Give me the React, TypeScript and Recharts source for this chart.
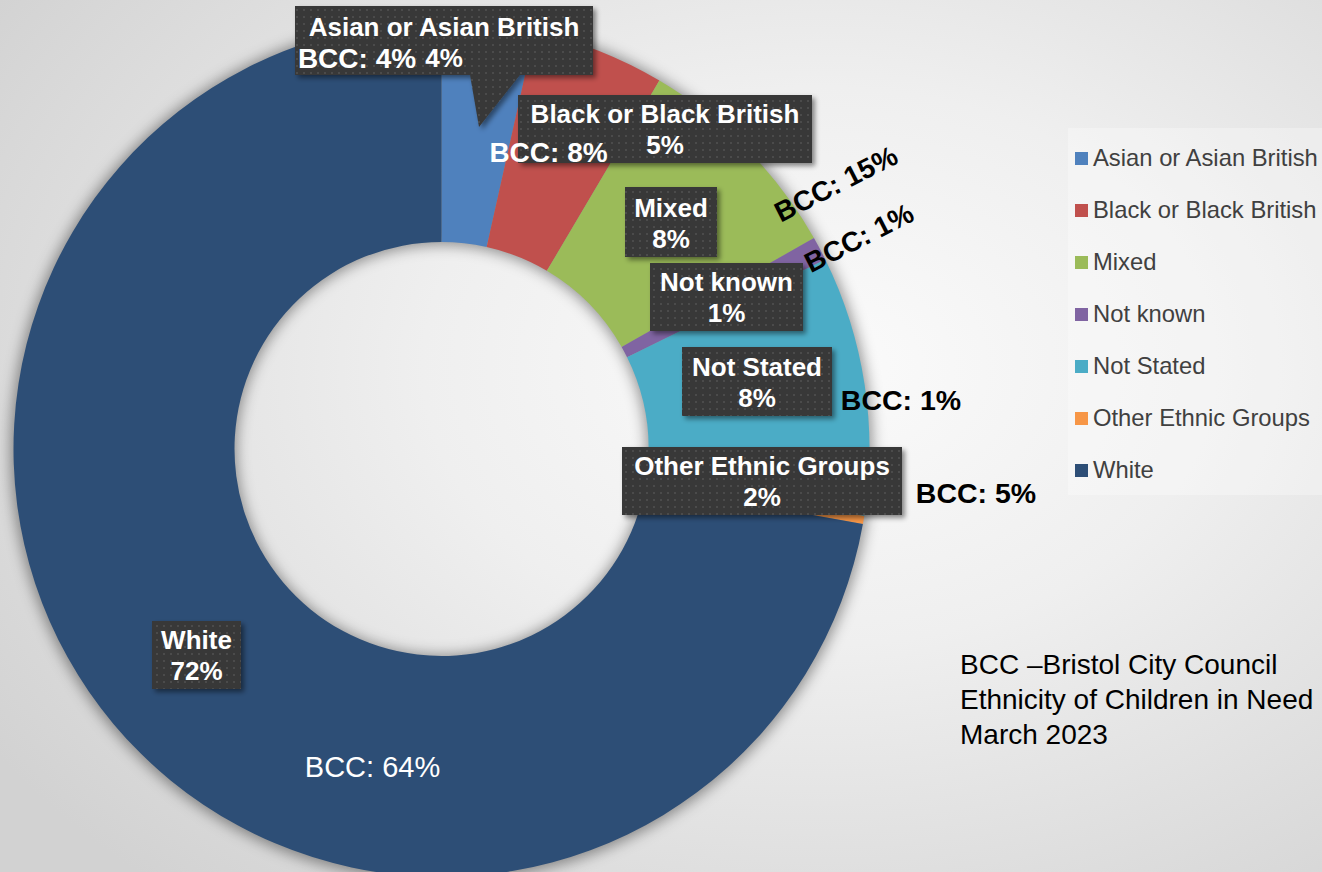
import React from 'react';
import { PieChart, Pie, Cell, Legend } from 'recharts';

const categories = [
  'Asian or Asian British',
  'Black or Black British',
  'Mixed',
  'Not known',
  'Not Stated',
  'Other Ethnic Groups',
  'White',
];
const sliceShares = [3.5, 5.0, 8.3, 0.9, 9.8, 0.3, 72.2];
const percentLabels = ['4%', '5%', '8%', '1%', '8%', '2%', '72%'];
const bccLabels = ['BCC: 4%', 'BCC: 8%', 'BCC: 15%', 'BCC: 1%', 'BCC: 1%', 'BCC: 5%', 'BCC: 64%'];
const colors = ['#4f81bd', '#c0504d', '#9bbb59', '#8064a2', '#4bacc6', '#f79646', '#2d4e76'];

const noteLines = ['BCC \u2013Bristol City Council', 'Ethnicity of Children in Need', 'March 2023'];

const data = categories.map((name, i) => ({ name, value: sliceShares[i] }));
const shadowData = [{ name: 'shadow', value: 1 }];

// label layout (style only): offsets relative to the pie centre
const boxLayout = [
  { dx: 2.5, dy: -408.5, w: 298, h: 69, l1: -13.5, l2: 17.5 },
  { dx: 223.5, dy: -320, w: 294, h: 68, l1: -15, l2: 16 },
  { dx: 229.5, dy: -227, w: 92, h: 70, l1: -14, l2: 17 },
  { dx: 285, dy: -152, w: 153, h: 68, l1: -15, l2: 16 },
  { dx: 315.5, dy: -67.5, w: 150, h: 69, l1: -15, l2: 16 },
  { dx: 320.5, dy: 32, w: 280, h: 68, l1: -15, l2: 16 },
  { dx: -245, dy: 206, w: 89, h: 68, l1: -15, l2: 16 },
];
const bccLayout = [
  { dx: -84.5, dy: -391, color: '#ffffff', weight: 700, rotate: 0, size: 28 },
  { dx: 107, dy: -297, color: '#ffffff', weight: 700, rotate: 0, size: 28 },
  { dx: 394.5, dy: -265, color: '#000000', weight: 700, rotate: -27, size: 28 },
  { dx: 417.5, dy: -211, color: '#000000', weight: 700, rotate: -27, size: 28 },
  { dx: 459.5, dy: -49, color: '#000000', weight: 700, rotate: 0, size: 28.5 },
  { dx: 534.5, dy: 44, color: '#000000', weight: 700, rotate: 0, size: 28.5 },
  { dx: -69, dy: 318, color: '#ffffff', weight: 400, rotate: 0, size: 29 },
];

const FONT = '"Liberation Sans", Arial, sans-serif';
const CX = 441.5;
const CY = 449;

const renderLabel = (props: any) => {
  const index = props.index;
  const cx = props.cx ?? CX;
  const cy = props.cy ?? CY;
  const b = boxLayout[index];
  const t = bccLayout[index];
  const bx = cx + b.dx;
  const by = cy + b.dy;
  const left = bx - b.w / 2;
  const top = by - b.h / 2;
  let shape;
  if (index === 0) {
    const bottom = top + b.h;
    const d = `M${left},${top} H${left + b.w} V${bottom} H${bx + 76} L${bx + 35},${bottom + 52} L${bx + 26},${bottom} H${left} Z`;
    shape = <path d={d} fill="url(#dotPat)" filter="url(#boxShadow)" />;
  } else {
    shape = <rect x={left} y={top} width={b.w} height={b.h} fill="url(#dotPat)" filter="url(#boxShadow)" />;
  }
  const tx = cx + t.dx;
  const ty = cy + t.dy;
  return (
    <g key={`lab-${index}`}>
      {index === 0 && (
        <defs>
          <pattern id="dotPat" width="7" height="7" patternUnits="userSpaceOnUse">
            <rect width="7" height="7" fill="#393939" />
            <rect x="2" y="2" width="2" height="2" fill="#4b4b4b" />
          </pattern>
          <filter id="boxShadow" x="-20%" y="-20%" width="140%" height="160%">
            <feDropShadow dx="3" dy="3" stdDeviation="2.5" floodColor="#000" floodOpacity="0.45" />
          </filter>
          <filter id="donutBlur" x="-10%" y="-10%" width="120%" height="120%">
            <feGaussianBlur stdDeviation="7" />
          </filter>
        </defs>
      )}
      {shape}
      <text x={bx} y={by + b.l1} textAnchor="middle" dominantBaseline="central" fill="#ffffff" fontFamily={FONT} fontWeight={700} fontSize={26}>
        {categories[index]}
      </text>
      <text x={bx} y={by + b.l2} textAnchor="middle" dominantBaseline="central" fill="#ffffff" fontFamily={FONT} fontWeight={700} fontSize={26}>
        {percentLabels[index]}
      </text>
      <text
        x={tx}
        y={ty}
        textAnchor="middle"
        dominantBaseline="central"
        fill={t.color}
        fontFamily={FONT}
        fontWeight={t.weight}
        fontSize={t.size}
        transform={t.rotate ? `rotate(${t.rotate} ${tx} ${ty})` : undefined}
      >
        {bccLabels[index]}
      </text>
    </g>
  );
};

const renderLegend = () => (
  <div style={{ width: 254, height: 367, background: 'rgba(255,255,255,0.3)', fontFamily: FONT }}>
    {categories.map((c, i) => (
      <div key={c} style={{ position: 'absolute', left: 7, top: 30 + i * 52 - 14, height: 28, display: 'flex', alignItems: 'center', whiteSpace: 'nowrap' }}>
        <span style={{ display: 'inline-block', width: 13, height: 13, background: colors[i], marginRight: 5 }} />
        <span style={{ fontSize: 23.8, color: '#404040' }}>{c}</span>
      </div>
    ))}
  </div>
);

export default function App() {
  return (
    <div
      style={{
        position: 'absolute',
        left: 0,
        top: 0,
        width: 1322,
        height: 872,
        overflow: 'hidden',
        background: 'radial-gradient(ellipse 75% 80% at 62% 42%, #fbfbfb 0%, #efefef 40%, #dedede 75%, #d2d2d2 100%)',
        fontFamily: FONT,
      }}
    >
      <PieChart width={1322} height={872} margin={{ top: 0, right: 0, bottom: 0, left: 0 }}>
        <Pie
          data={shadowData}
          dataKey="value"
          cx={CX}
          cy={CY + 1}
          innerRadius={205}
          outerRadius={431}
          startAngle={90}
          endAngle={-270}
          stroke="none"
          isAnimationActive={false}
          legendType="none"
        >
          {shadowData.map((d) => (
            <Cell key={d.name} fill="rgba(0,0,0,0.4)" filter="url(#donutBlur)" />
          ))}
        </Pie>
        <Pie
          data={data}
          dataKey="value"
          nameKey="name"
          cx={CX}
          cy={CY}
          innerRadius={207}
          outerRadius={428}
          startAngle={90}
          endAngle={-270}
          stroke="none"
          label={renderLabel}
          labelLine={false}
          isAnimationActive={false}
        >
          {data.map((d, i) => (
            <Cell key={d.name} fill={colors[i]} />
          ))}
        </Pie>
        <Legend
          layout="vertical"
          content={renderLegend}
          wrapperStyle={{ position: 'absolute', left: 1068, top: 128, width: 254, height: 367 }}
        />
      </PieChart>
      <div
        style={{
          position: 'absolute',
          left: 960,
          top: 647,
          fontSize: 28,
          lineHeight: '35px',
          color: '#000',
          whiteSpace: 'nowrap',
        }}
      >
        {noteLines.map((l) => (
          <div key={l}>{l}</div>
        ))}
      </div>
    </div>
  );
}
